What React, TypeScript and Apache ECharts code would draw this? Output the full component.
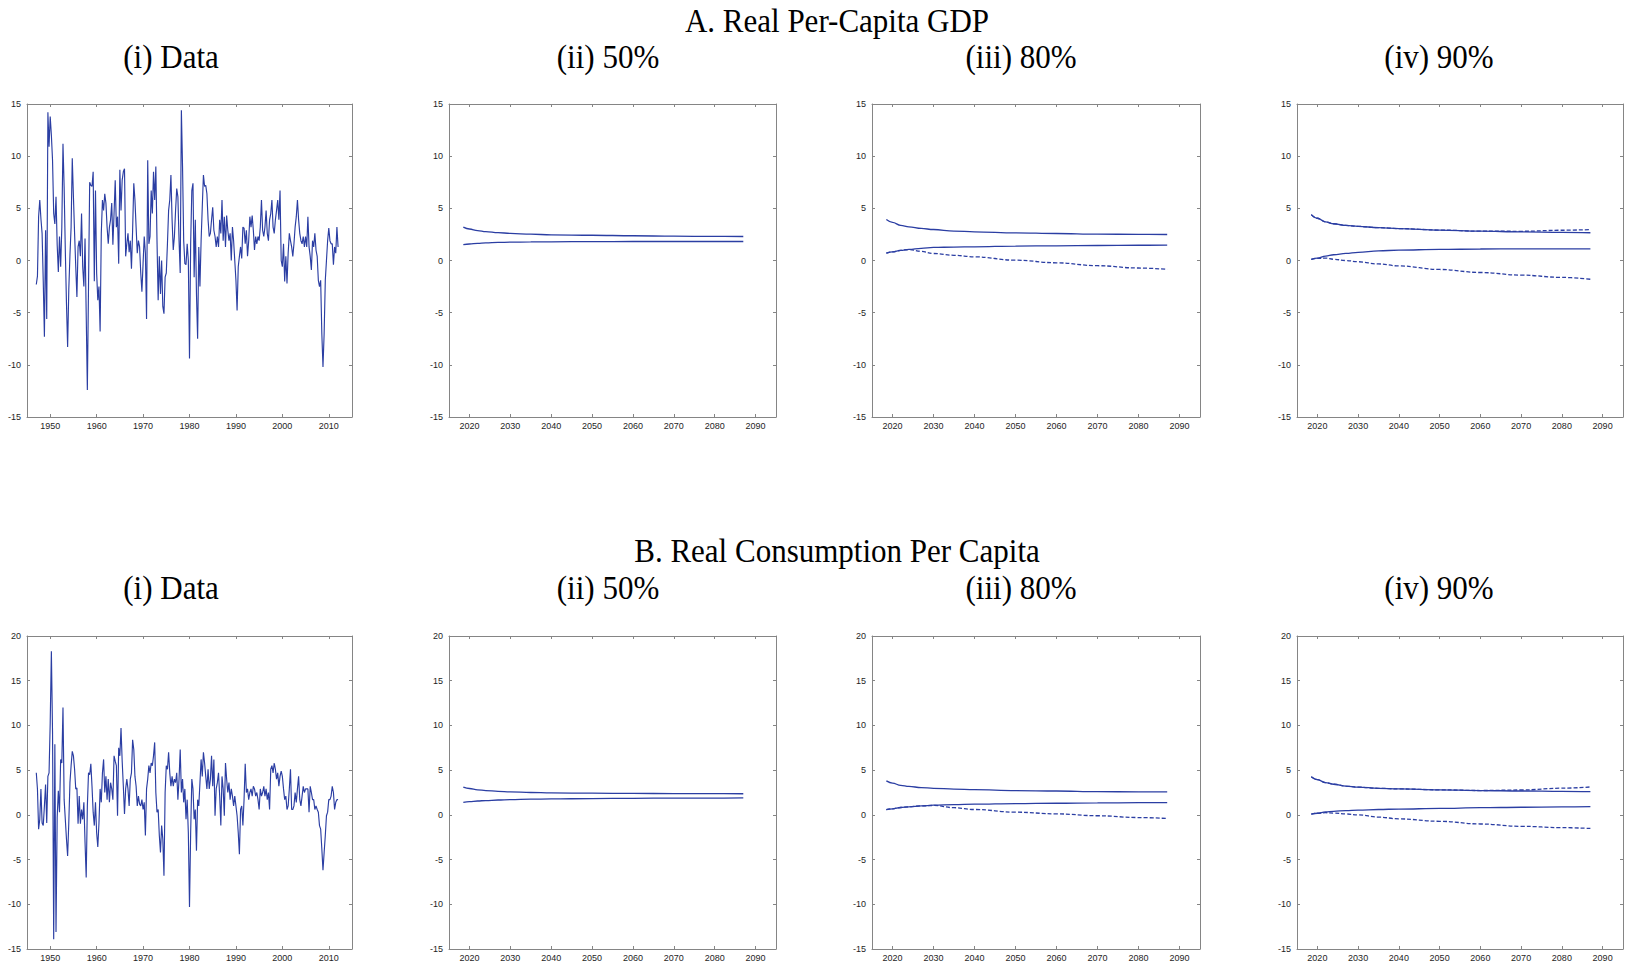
import React, { useEffect, useRef } from "react";
import * as echarts from "echarts";

// Quarterly annualized growth rates (percent), first observation 1947Q1.
const HIST_START = 1947;
const HIST_STEP = 0.25;

const GDP_GROWTH = [
  -2.3, -1.5, 4.2, 5.8, 4.0, 2.6, -2.0, -7.3, 2.9, -5.6,
  14.2, 10.9, 13.8, 12.0, 9.6, 4.5, 3.5, 6.1, 1.5, -1.1,
  2.3, -0.6, 3.2, 11.2, 7, 1, -4.1, -8.3, -2.8, 0.5,
  3.2, 9.8, 6.1, 2.6, -0.6, -3.5, 1.3, 1.9, 0.4, 4.5,
  -0.6, -2.5, 2.1, -5.1, -12.4, -2.5, 7.5, 7.2, 7.1, 8.5,
  -2, 6.7, -1.2, -3.8, -2.5, -6.8, 2.6, 5.8, 4.8, 6.4,
  5.5, 3.2, 1.6, 3.2, 3.9, 5.5, 1.5, 4.5, 7.7, 3.2,
  4.2, -0.3, 8.7, 4.8, 7.7, 8.5, 8.8, 0.4, 1.6, 2.6,
  0.8, 1.9, -0.8, 2.9, 7.4, 5.8, 3.2, 0.7, 1.9, 1.3,
  -1.2, -3, -0.3, 2.3, 0.7, -5.6, 9.6, 1.6, 2.3, 6.7,
  4.5, 8.5, 5.8, 9, 1.9, -3.8, 0.4, -3.2, 0, -4.4,
  -5.1, -1.6, -1.2, 1.6, 4.8, 5.8, 8.2, 3.9, 1, 2.3,
  4.8, 6.9, 6.1, 1.9, -1.2, 14.4, 9, 1.9, -0.3, -0.4,
  1.6, 0,
  -9.4, 1.6, 6.7, 7.4, -1.6, 3.9, -3.2, -7.5, 1.3, -2.5,
  1.9, 5.1, 8.2, 7.1, 7.2, 6.4, 3.9, 2.3, 2.6, 3.9,
  5.1, 2.9, 2.3, 1.3, 2.3, 1.3, 3.9, 2.6, 5.8, 1.9,
  4.2, 1.3, 4.3, 2.9, 1.9, 2.6, 0, 3.2, 1.9, 0,
  -1.9, -4.8, -0.6, 0.4, 1.3, 0.2, 3.2, 3.1, 1.6, 2.9,
  0.4, 1.9, 4.2, 3.2, 4.3, 2.9, 1, 2.3, 1.6, 2.3,
  1.9, 3.2, 5.8, 2.9, 2.3, 3.2, 4.8, 2.6, 1.9, 3.9,
  4.5, 5.8, 3.2, 2.6, 3.9, 4.8, 5.8, 3.9, 6.7, 0,
  -0.6, 1.6, -2, 0.4, -2.2, 0.7, 2.6, 1.9, 1.3, 0.4,
  1.6, 3.2, 4.2, 5.8, 3.9, 2.6, 1.9, 1.6, 2.3, 1.3,
  2.3, 1.3, 4.2, 1.3, 0.4, -0.9, 1.9, 1.3, 2.6, 1,
  0.4, -1.9, -2.5, -1.9, -7, -10.2, -7, -1.9, 0, 1.9,
  3.1, 1.9, 1.6, 1.6, -0.4, 1.3, 0.7, 3.2, 1.3,
];

const CONS_GROWTH = [
  4.7, 2.9, -1.6, -0.5, 2.9, -0.9, -1.2, 1, 3.4, -0.9,
  4.3, 4.7, 10.3, 18.3, 9.2, -13.9, 7.9, -13.1, -0.3, 2.7,
  0.3, 6.2, 5.8, 12, 1.7, -0.5, -2.7, -4.6, -0.9, 3.6,
  5.5, 7.1, 6.6, 5.1, 2.9, 3, -1, 2.1, -1, 0.6,
  -0.5, 1.4, -3.1, -7, 1, 4.7, 4.5, 5.7, 3.2, 0.3,
  -1.2, 1.4, -2, -3.6, -0.9, 2.9, 1.4, 4.7, 6.2, 2.5,
  4.3, 1.7, 4, 1.4, 3.6, 2.9, 1.7, 6.6, 6, 5.5,
  -0.1, 7.5, 6.6, 9.7, 6, 3.2, 0.1, 2.9, 4, 2.9,
  1, 4, 4.7, 8.4, 7.3, 4.3, 3.2, 1, 2.1, 1.2,
  1, 1.7, 0.6, 1.4, -2.3, 2.9, 4, 5.5, 4.7, 5.8,
  5.5, 6.6, 8.1, 2.5, 0.3, 0.6, -2.3, -4.2, -1.2, -2.7,
  -6.8, 2.5, 5.5, 5.1, 7, 4.7, 3.2, 4.3, 3.2, 4,
  3.6, 4.7, 1.7, 4, 7.3, 2.5, 4, 1.4, 2.9, -0.5,
  1.7, -2,
  -10.3, -2, 4, 2.9, -0.5, 0.6, -4, 1.7, 1, 3.6,
  6.2, 4.3, 7, 5.8, 4.3, 2.9, 5.1, 2.9, 4, 6.6,
  3.2, 6.2, -0.1, 2.9, 3.6, 4.7, 2.1, -1.2, 4.3, 2.9,
  -0.1, 5.8, 4, 2.5, 3.6, 1.7, 2.9, 2.1, 1, 2.1,
  1, -0.1, -2, -4.4, 0.6, 1, -1.2, 1.7, 5.7, 2.5,
  2.9, 1.7, 2.5, 2.9, 2.1, 3.2, 2.9, 2.1, 2.5, 1.7,
  0.6, 2.9, 2.1, 2.5, 3.2, 2.1, 2.9, 1.7, 2.5, 0.6,
  5.1, 5.5, 4.7, 5.8, 5.1, 4, 4.7, 3.2, 4.3, 4.9,
  4.3, 2.9, 1.7, 2.1, 0.6, 1, 2.9, 5.1, 0.6, 0.6,
  1, 2.5, 1.4, 2.9, 4.3, 1.7, 1, 2.1, 3.2, 2.5,
  2.9, 2.9, 2.9, 0.3, 3.2, 2.5, 1.7, 1.7, 0.6, 1,
  0.6, 0.3, -1.2, -1.6, -3.8, -6.2, -4.2, -2.3, -0.1, 0.3,
  1.7, 1.7, 2.1, 3.2, 2.5, 0.6, 1.4, 1.7, 1.7,
];

// Long-run projection bands (percent per year).
const PROJ_YEARS = [2018.5, 2020, 2022, 2024, 2027, 2030, 2035, 2040, 2050, 2060, 2070, 2080, 2087];

const GDP_50_UPPER = [3.2, 3.02, 2.87, 2.77, 2.67, 2.6, 2.52, 2.46, 2.42, 2.37, 2.33, 2.31, 2.3];
const GDP_50_LOWER = [1.53, 1.58, 1.65, 1.69, 1.73, 1.76, 1.78, 1.79, 1.81, 1.82, 1.82, 1.82, 1.82];

const GDP_80_UPPER = [3.93, 3.66, 3.36, 3.23, 3.07, 2.97, 2.82, 2.75, 2.65, 2.59, 2.53, 2.5, 2.49];
const GDP_80_LOWER = [0.7, 0.82, 0.97, 1.07, 1.17, 1.25, 1.29, 1.31, 1.38, 1.41, 1.44, 1.46, 1.47];
const GDP_80_LOWER_ALT = [0.7, 0.82, 0.97, 1.05, 0.88, 0.67, 0.5, 0.35, 0.03, -0.22, -0.5, -0.72, -0.85];

const GDP_90_UPPER = [4.4, 4.05, 3.7, 3.52, 3.36, 3.27, 3.15, 3.06, 2.92, 2.81, 2.75, 2.7, 2.66];
const GDP_90_UPPER_ALT = [4.4, 4.05, 3.7, 3.52, 3.36, 3.27, 3.15, 3.06, 2.92, 2.81, 2.8, 2.9, 2.96];
const GDP_90_LOWER = [0.1, 0.22, 0.42, 0.55, 0.68, 0.78, 0.92, 1.0, 1.06, 1.1, 1.12, 1.12, 1.12];
const GDP_90_LOWER_ALT = [0.1, 0.2, 0.23, 0.12, 0.0, -0.12, -0.33, -0.52, -0.86, -1.15, -1.4, -1.62, -1.8];

const CONS_50_UPPER = [3.1, 2.95, 2.8, 2.72, 2.63, 2.57, 2.5, 2.46, 2.42, 2.4, 2.38, 2.37, 2.36];
const CONS_50_LOWER = [1.4, 1.47, 1.55, 1.6, 1.66, 1.7, 1.75, 1.78, 1.82, 1.85, 1.87, 1.88, 1.89];

const CONS_80_UPPER = [3.8, 3.55, 3.3, 3.18, 3.05, 2.97, 2.88, 2.82, 2.71, 2.67, 2.6, 2.57, 2.56];
const CONS_80_LOWER = [0.59, 0.68, 0.82, 0.9, 1.0, 1.08, 1.15, 1.19, 1.26, 1.3, 1.34, 1.36, 1.37];
const CONS_80_LOWER_ALT = [0.59, 0.68, 0.82, 0.9, 1.0, 1.05, 0.8, 0.6, 0.3, 0.11, -0.1, -0.3, -0.41];

const CONS_90_UPPER = [4.27, 3.95, 3.6, 3.42, 3.22, 3.1, 2.97, 2.9, 2.8, 2.72, 2.67, 2.63, 2.6];
const CONS_90_UPPER_ALT = [4.27, 3.95, 3.6, 3.42, 3.22, 3.1, 2.97, 2.9, 2.8, 2.72, 2.78, 2.98, 3.12];
const CONS_90_LOWER = [0.07, 0.18, 0.33, 0.4, 0.47, 0.53, 0.6, 0.65, 0.72, 0.8, 0.85, 0.89, 0.92];
const CONS_90_LOWER_ALT = [0.07, 0.18, 0.24, 0.2, 0.1, 0.0, -0.25, -0.45, -0.72, -1.02, -1.28, -1.43, -1.52];

const HIST_TICKS = [1950, 1960, 1970, 1980, 1990, 2000, 2010];
const PROJ_TICKS = [2020, 2030, 2040, 2050, 2060, 2070, 2080, 2090];

const SECTION_TITLES = ["A. Real Per-Capita GDP", "B. Real Consumption Per Capita"];
const PANEL_TITLES = ["(i) Data", "(ii) 50%", "(iii) 80%", "(iv) 90%"];

// Layout of the 2 x 4 panel grid (pixels).
const COLS = [
  { left: 27, width: 325, titleX: 171 },
  { left: 449, width: 327, titleX: 608 },
  { left: 872, width: 328, titleX: 1021 },
  { left: 1297, width: 326, titleX: 1439 },
];
const ROWS = [
  { top: 104, height: 313, titleY: 21, subY: 57, yMin: -15, yMax: 15 },
  { top: 636, height: 313, titleY: 551, subY: 588, yMin: -15, yMax: 20 },
];

const LINE_COLOR = "#2b3ea3";
const AXIS_COLOR = "#858585";
const SERIF = "'Liberation Serif', 'Times New Roman', serif";
const SANS = "'Liberation Sans Narrow', 'Liberation Sans', Arial, sans-serif";

type Band = { values: number[]; dashed?: boolean };

function histPairs(values: number[]) {
  return values.map((v, i) => [HIST_START + i * HIST_STEP, v]);
}
function projPairs(values: number[]) {
  return values.map((v, i) => [PROJ_YEARS[i], v]);
}

export default function App() {
  const ref = useRef<HTMLDivElement>(null);

  useEffect(() => {
    if (!ref.current) return;
    const chart = echarts.init(ref.current, undefined, { renderer: "svg" });

    const panels: { row: number; col: number; hist?: number[]; bands?: Band[] }[] = [
      { row: 0, col: 0, hist: GDP_GROWTH },
      { row: 0, col: 1, bands: [{ values: GDP_50_UPPER }, { values: GDP_50_LOWER }] },
      {
        row: 0, col: 2,
        bands: [{ values: GDP_80_LOWER_ALT, dashed: true }, { values: GDP_80_UPPER }, { values: GDP_80_LOWER }],
      },
      {
        row: 0, col: 3,
        bands: [
          { values: GDP_90_UPPER_ALT, dashed: true },
          { values: GDP_90_LOWER_ALT, dashed: true },
          { values: GDP_90_UPPER },
          { values: GDP_90_LOWER },
        ],
      },
      { row: 1, col: 0, hist: CONS_GROWTH },
      { row: 1, col: 1, bands: [{ values: CONS_50_UPPER }, { values: CONS_50_LOWER }] },
      {
        row: 1, col: 2,
        bands: [{ values: CONS_80_LOWER_ALT, dashed: true }, { values: CONS_80_UPPER }, { values: CONS_80_LOWER }],
      },
      {
        row: 1, col: 3,
        bands: [
          { values: CONS_90_UPPER_ALT, dashed: true },
          { values: CONS_90_LOWER_ALT, dashed: true },
          { values: CONS_90_UPPER },
          { values: CONS_90_LOWER },
        ],
      },
    ];

    const grids: any[] = [];
    const xAxes: any[] = [];
    const yAxes: any[] = [];
    const series: any[] = [];
    const n = panels.length;

    const axisLine = { show: true, onZero: false, lineStyle: { color: AXIS_COLOR, width: 1 } };
    const tickStyle = { show: true, inside: true, length: 3, lineStyle: { color: AXIS_COLOR, width: 1 } };
    const labelStyle = { color: "#1e1e1e", fontSize: 9, fontFamily: SANS };

    panels.forEach((p, g) => {
      const c = COLS[p.col];
      const r = ROWS[p.row];
      grids.push({ left: c.left, top: r.top, width: c.width, height: r.height, containLabel: false });
      const isHist = !!p.hist;
      const xMin = isHist ? 1945 : 2015;
      const xMax = isHist ? 2015 : 2095;
      const ticks = isHist ? HIST_TICKS : PROJ_TICKS;
      xAxes[g] = {
        type: "value", gridIndex: g, position: "bottom", min: xMin, max: xMax,
        axisLine, splitLine: { show: false },
        axisTick: { ...tickStyle, customValues: ticks },
        axisLabel: { ...labelStyle, margin: 4, customValues: ticks, formatter: (v: number) => String(v) },
      };
      xAxes[g + n] = {
        type: "value", gridIndex: g, position: "top", min: xMin, max: xMax,
        axisLine, splitLine: { show: false },
        axisTick: { ...tickStyle, customValues: ticks },
        axisLabel: { show: false },
      };
      yAxes[g] = {
        type: "value", gridIndex: g, position: "left", min: r.yMin, max: r.yMax, interval: 5,
        axisLine, splitLine: { show: false }, axisTick: tickStyle,
        axisLabel: { ...labelStyle, margin: 6 },
      };
      yAxes[g + n] = {
        type: "value", gridIndex: g, position: "right", min: r.yMin, max: r.yMax, interval: 5,
        axisLine, splitLine: { show: false }, axisTick: tickStyle,
        axisLabel: { show: false },
      };

      if (p.hist) {
        series.push({
          type: "line", xAxisIndex: g, yAxisIndex: g, data: histPairs(p.hist),
          symbol: "none", lineStyle: { color: LINE_COLOR, width: 1.15 }, silent: true,
        });
      }
      (p.bands || []).forEach((b) => {
        series.push({
          type: "line", xAxisIndex: g, yAxisIndex: g, data: projPairs(b.values),
          symbol: "none", smooth: 0.4, smoothMonotone: "x", silent: true,
          lineStyle: { color: LINE_COLOR, width: 1.3, type: b.dashed ? [4, 2] : "solid" },
        });
      });
    });

    const graphic: any[] = [];
    const titleStyle = { fontSize: 31, fontFamily: SERIF, fill: "#000", align: "center", verticalAlign: "middle" };
    ROWS.forEach((r, ri) => {
      graphic.push({
        type: "text", x: 837, y: r.titleY, scaleY: 1.06,
        style: { ...titleStyle, text: SECTION_TITLES[ri] },
      });
      COLS.forEach((c, ci) => {
        graphic.push({
          type: "text", x: c.titleX, y: r.subY, scaleY: 1.06,
          style: { ...titleStyle, text: PANEL_TITLES[ci] },
        });
      });
    });

    chart.setOption({
      animation: false,
      backgroundColor: "#ffffff",
      grid: grids,
      xAxis: xAxes,
      yAxis: yAxes,
      series,
      graphic,
    });

    return () => chart.dispose();
  }, []);

  return (
    <div
      ref={ref}
      style={{ position: "fixed", left: 0, top: 0, width: 1625, height: 968, background: "#fff" }}
    />
  );
}
